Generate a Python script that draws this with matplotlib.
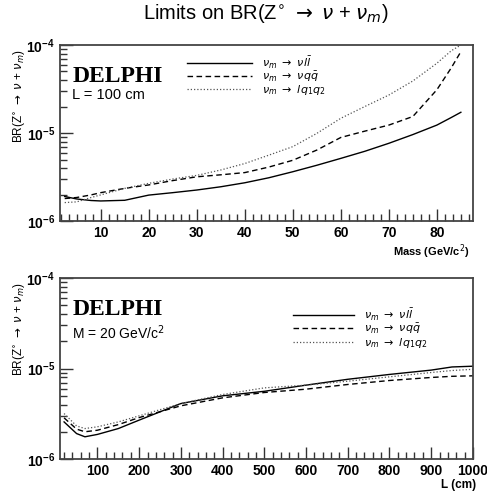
import numpy as np
import matplotlib.pyplot as plt
from matplotlib.ticker import LogLocator, AutoMinorLocator, MultipleLocator, NullFormatter

plt.rcParams['font.family'] = ['Liberation Sans', 'DejaVu Sans']
plt.rcParams['mathtext.fontset'] = 'dejavusans'

# top panel: BR limit vs mass, L = 100 cm
mass = [2.5, 5, 8, 10, 15, 20, 25, 30, 35, 40, 45, 50, 55, 60, 65, 70, 75, 80, 83, 85]
br_m_lll = [1.90e-6, 1.78e-6, 1.71e-6, 1.69e-6, 1.72e-6, 1.97e-6, 2.10e-6, 2.25e-6,
            2.45e-6, 2.72e-6, 3.10e-6, 3.63e-6, 4.30e-6, 5.15e-6, 6.20e-6, 7.64e-6,
            9.60e-6, 1.23e-5, 1.50e-5, 1.72e-5]
br_m_qq = [1.80e-6, 1.85e-6, 1.98e-6, 2.10e-6, 2.35e-6, 2.57e-6, 2.88e-6, 3.18e-6,
           3.35e-6, 3.55e-6, 4.10e-6, 4.90e-6, 6.40e-6, 8.90e-6, 1.05e-5, 1.23e-5,
           1.54e-5, 3.10e-5, 5.50e-5, 8.40e-5]
br_m_lqq = [1.62e-6, 1.65e-6, 1.85e-6, 1.98e-6, 2.35e-6, 2.68e-6, 3.00e-6, 3.30e-6,
            3.80e-6, 4.50e-6, 5.60e-6, 7.00e-6, 9.90e-6, 1.47e-5, 2.00e-5, 2.70e-5,
            3.90e-5, 6.20e-5, 8.60e-5, 1.00e-4]

# bottom panel: BR limit vs decay length, M = 20 GeV/c2
length = [20, 50, 70, 100, 150, 200, 300, 400, 500, 600, 700, 800, 900, 950, 1000]
br_l_lll = [2.57e-6, 1.91e-6, 1.76e-6, 1.87e-6, 2.17e-6, 2.69e-6, 4.10e-6, 4.99e-6,
            5.60e-6, 6.55e-6, 7.60e-6, 8.60e-6, 9.60e-6, 1.04e-5, 1.06e-5]
br_l_qq = [2.85e-6, 2.14e-6, 2.00e-6, 2.08e-6, 2.40e-6, 2.87e-6, 3.87e-6, 4.74e-6,
           5.43e-6, 5.91e-6, 6.66e-6, 7.37e-6, 7.96e-6, 8.20e-6, 8.30e-6]
br_l_lqq = [3.18e-6, 2.32e-6, 2.17e-6, 2.27e-6, 2.57e-6, 3.00e-6, 4.10e-6, 5.16e-6,
            6.11e-6, 6.55e-6, 7.24e-6, 8.09e-6, 9.03e-6, 9.50e-6, 9.80e-6]

labels = [r'$\nu_m\ \rightarrow\ \nu l\bar{l}$',
          r'$\nu_m\ \rightarrow\ \nu q\bar{q}$',
          r'$\nu_m\ \rightarrow\ lq_1q_2$']
ylabel = r'BR(Z$^{\circ}$ $\rightarrow$ $\nu$ + $\nu_m$)'

fig = plt.figure(figsize=(4.87, 4.95), dpi=100)
ax1 = fig.add_axes([0.123, 0.5535, 0.848, 0.3556])
ax2 = fig.add_axes([0.123, 0.0727, 0.848, 0.3657])

fig.text(0.545, 0.972, r'Limits on BR(Z$^{\circ}$ $\rightarrow$ $\nu$ + $\nu_m$)',
         ha='center', va='center', fontsize=14.5)

def style(ax, xmaj, nminor):
    ax.set_yscale('log')
    ax.set_ylim(1e-6, 1e-4)
    ax.yaxis.set_major_locator(LogLocator(base=10, numticks=5))
    ax.yaxis.set_minor_locator(LogLocator(base=10, subs=np.arange(2, 10), numticks=20))
    ax.yaxis.set_minor_formatter(NullFormatter())
    ax.xaxis.set_major_locator(MultipleLocator(xmaj))
    ax.xaxis.set_minor_locator(AutoMinorLocator(nminor))
    ax.tick_params(which='both', direction='in', top=False, right=False, width=1.0,
                   color='#333333')
    ax.tick_params(which='major', length=9, labelsize=10)
    ax.tick_params(which='minor', length=5)
    for lab in ax.get_xticklabels() + ax.get_yticklabels():
        lab.set_fontweight('bold')
    for s in ax.spines.values():
        s.set_linewidth(1.3)
        s.set_color('#444444')
    ax.set_ylabel(ylabel, fontsize=8.5, loc='top')
    ax.yaxis.set_label_coords(-0.078, 0.98)

for ax, x, ys in [(ax1, mass, (br_m_lll, br_m_qq, br_m_lqq)),
                  (ax2, length, (br_l_lll, br_l_qq, br_l_lqq))]:
    ax.plot(x, ys[0], color='black', lw=1.0, ls='-', label=labels[0])
    ax.plot(x, ys[1], color='black', lw=1.0, ls=(0, (4, 2.5)), label=labels[1])
    ax.plot(x, ys[2], color='#555555', lw=0.9, ls=(0, (1, 1.6)), label=labels[2])

style(ax1, 10, 6)
ax1.set_xlim(1.5, 87.5)
style(ax2, 100, 5)
ax2.set_xlim(10, 1000)

ax1.legend(loc='upper left', bbox_to_anchor=(0.29, 0.99), frameon=False,
           handlelength=5.8, handletextpad=0.9, labelspacing=-0.1, borderpad=0.2,
           prop={'weight': 'bold', 'size': 8})
ax2.legend(loc='upper left', bbox_to_anchor=(0.545, 0.885), frameon=False,
           handlelength=5.5, handletextpad=0.9, labelspacing=-0.05, borderpad=0.2,
           prop={'weight': 'bold', 'size': 8})

ax1.text(0.03, 0.82, 'DELPHI', transform=ax1.transAxes, fontsize=17,
         fontweight='bold', family='Liberation Serif', va='center')
ax1.text(0.03, 0.715, 'L = 100 cm', transform=ax1.transAxes, fontsize=10.5, va='center')
ax2.text(0.03, 0.825, 'DELPHI', transform=ax2.transAxes, fontsize=17,
         fontweight='bold', family='Liberation Serif', va='center')
ax2.text(0.03, 0.70, r'M = 20 GeV/c$^2$', transform=ax2.transAxes, fontsize=10,
         va='center')

ax1.set_xlabel(r'Mass (GeV/c$^2$)', fontsize=8, fontweight='bold')
ax1.xaxis.set_label_coords(0.9, -0.12)
ax2.set_xlabel('L (cm)', fontsize=8.5, fontweight='bold')
ax2.xaxis.set_label_coords(0.965, -0.11)

fig.savefig('out.png', dpi=100)
